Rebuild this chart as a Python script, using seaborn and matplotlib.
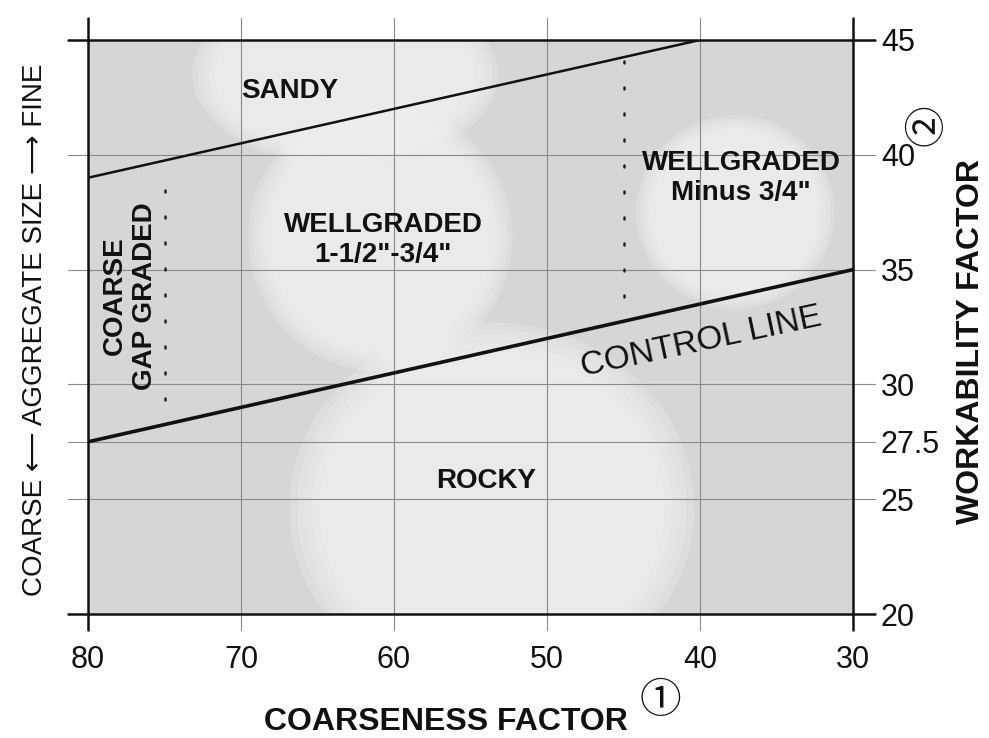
import matplotlib
matplotlib.use("Agg")
import matplotlib.pyplot as plt
from matplotlib.patches import Ellipse
import seaborn as sns
import pandas as pd

# axis ticks
x_ticks = [80, 70, 60, 50, 40, 30]
y_ticks = [20, 25, 27.5, 30, 35, 40, 45]
y_tick_labels = ["20", "25", "27.5", "30", "35", "40", "45"]

# boundary lines
sandy_x = [80, 40]
sandy_y = [39, 45]
control_x = [80, 30]
control_y = [27.5, 35]

# dotted zone dividers
gap_x = 75
gap_y = [29.3, 38.6]
minus_x = 45
minus_y = [33.8, 44.2]

# region labels
region_text = ["SANDY", "WELLGRADED\n1-1/2\"-3/4\"", "WELLGRADED\nMinus 3/4\"",
               "COARSE\nGAP GRADED", "ROCKY"]
region_x = [66.8, 60.7, 37.3, 77.25, 54.0]
region_y = [42.8, 36.3, 39.0, 33.85, 25.8]
region_rot = [0, 0, 0, 90, 0]

# light blobs in the shaded background (center x, center y, width, height)
blob_cx = [63.2, 60.9, 37.7, 53.6]
blob_cy = [43.5, 36.4, 37.5, 24.6]
blob_w = [18.5, 16.0, 12.0, 24.5]
blob_h = [7.4, 10.8, 7.8, 15.0]

sns.set_style("white")
plt.rcParams["font.family"] = ["Liberation Sans", "DejaVu Sans"]

fig = plt.figure(figsize=(9.89, 7.38), dpi=100)
ax = fig.add_axes([0.08898, 0.16802, 0.77351, 0.77778])
ax.set_facecolor("#d6d6d6")
ax.set_xlim(80, 30)
ax.set_ylim(20, 45)
for s in ax.spines.values():
    s.set_visible(False)

# soft light blobs
for cx, cy, w, h in zip(blob_cx, blob_cy, blob_w, blob_h):
    for k in [1.08, 1.04, 1.0, 0.96, 0.92]:
        ax.add_patch(Ellipse((cx, cy), w * k, h * k, facecolor="#f0f0f0",
                             edgecolor="none", alpha=0.28, zorder=0.5))

# grid lines extending a little past the frame
for xv in x_ticks[1:-1]:
    ax.axvline(xv, ymin=-0.028, ymax=1.038, color="#8a8a8a", lw=0.8,
               clip_on=False, zorder=1)
for yv in y_ticks[1:-1]:
    ax.axhline(yv, xmin=-0.026, xmax=1.029, color="#8a8a8a", lw=0.8,
               clip_on=False, zorder=1)

# frame
for xv in [x_ticks[0], x_ticks[-1]]:
    ax.axvline(xv, ymin=-0.028, ymax=1.038, color="#111111", lw=1.8,
               clip_on=False, zorder=3)
for yv in [y_ticks[0], y_ticks[-1]]:
    ax.axhline(yv, xmin=-0.026, xmax=1.029, color="#111111", lw=1.8,
               clip_on=False, zorder=3)

lines = pd.DataFrame({"x": sandy_x + control_x, "y": sandy_y + control_y,
                      "line": ["sandy", "sandy", "control", "control"]})
sns.lineplot(data=lines[lines.line == "sandy"], x="x", y="y", ax=ax,
             color="#111111", lw=1.8, zorder=3)
sns.lineplot(data=lines[lines.line == "control"], x="x", y="y", ax=ax,
             color="#111111", lw=2.6, zorder=3)

ax.plot([gap_x, gap_x], gap_y, color="#222222", lw=1.8, dashes=(0.8, 9.6),
        dash_capstyle="round", zorder=2)
ax.plot([minus_x, minus_x], minus_y, color="#222222", lw=1.8, dashes=(0.8, 9.6),
        dash_capstyle="round", zorder=2)

for t, x, y, r in zip(region_text, region_x, region_y, region_rot):
    ax.text(x, y, t, ha="center", va="center", rotation=r, fontsize=20,
            fontweight="bold", color="#111111", linespacing=1.2, zorder=4)

ax.text(39.9, 31.85, "CONTROL LINE", ha="center", va="center", rotation=12,
        rotation_mode="anchor", fontsize=24, color="#111111", zorder=4)

ax.set_xticks(x_ticks)
ax.set_xticklabels([str(v) for v in x_ticks])
ax.yaxis.tick_right()
ax.set_yticks(y_ticks)
ax.set_yticklabels(y_tick_labels)
ax.tick_params(axis="x", length=0, pad=22, labelsize=22, labelcolor="#111111")
ax.tick_params(axis="y", length=0, pad=20, labelsize=22, labelcolor="#111111")

ax.set_xlabel("COARSENESS FACTOR", fontsize=23, fontweight="bold", color="#111111")
ax.xaxis.set_label_coords(0.468, -0.162)
ax.yaxis.set_label_position("right")
ax.set_ylabel("WORKABILITY FACTOR", fontsize=23, fontweight="bold", color="#111111")
ax.yaxis.set_label_coords(1.135, 0.4756)

ax.text(-0.0693, 0.4948, "COARSE \u27f5 AGGREGATE SIZE \u27f6 FINE",
        transform=ax.transAxes, rotation=90, ha="center", va="center",
        fontsize=20, color="#111111")

ax.text(0.7477, -0.1516, "\u2460", transform=ax.transAxes, ha="center",
        va="center", fontsize=30, family=["Noto Sans CJK JP", "DejaVu Sans"],
        color="#111111")
ax.text(1.098, 0.852, "\u2461", transform=ax.transAxes, ha="center",
        va="center", rotation=90, fontsize=30,
        family=["Noto Sans CJK JP", "DejaVu Sans"], color="#111111")

fig.savefig("out.png", dpi=100)
